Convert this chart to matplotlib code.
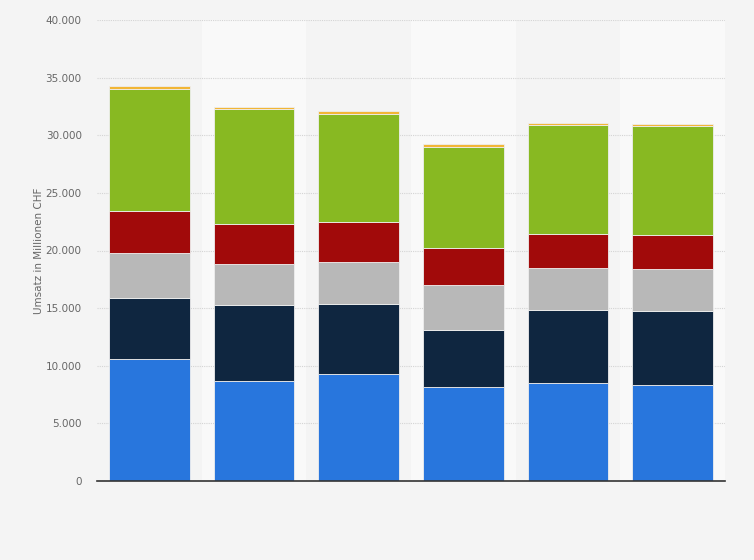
import matplotlib.pyplot as plt
from matplotlib.ticker import FuncFormatter

# six bars, no category labels shown in the reference
bars = [0, 1, 2, 3, 4, 5]

blue = [10560, 8650, 9260, 8130, 8540, 8370]
navy = [5360, 6600, 6100, 5010, 6340, 6420]
grey = [3820, 3560, 3620, 3850, 3560, 3610]
red = [3700, 3470, 3480, 3210, 2980, 2930]
green = [10590, 9960, 9370, 8790, 9430, 9430]
yellow = [230, 200, 290, 260, 230, 200]

series = [blue, navy, grey, red, green, yellow]
colors = ['#2876dd', '#0f2640', '#b8b8b8', '#a10a0a', '#88b922', '#f2b636']

fig = plt.figure(figsize=(7.54, 5.6), dpi=100)
fig.patch.set_facecolor('#f4f4f4')
ax = fig.add_axes([97 / 754, 1 - 481 / 560, 628 / 754, 461 / 560])
ax.set_facecolor('#f4f4f4')

# alternating light column bands
for i in bars:
    if i % 2 == 1:
        ax.axvspan(i - 0.5, i + 0.5, color='#f9f9f9', zorder=0, lw=0)

bottom = [0] * len(bars)
for vals, c in zip(series, colors):
    ax.bar(bars, vals, width=0.77, bottom=bottom, color=c,
           edgecolor='#eeeeee', linewidth=0.6, zorder=3)
    bottom = [b + v for b, v in zip(bottom, vals)]

ax.set_xlim(-0.5, 5.5)
ax.set_ylim(0, 40000)
ax.set_yticks(range(0, 40001, 5000))
ax.yaxis.set_major_formatter(FuncFormatter(lambda v, p: f"{int(v):,}".replace(',', '.')))
ax.set_xticks([])
ax.tick_params(axis='y', length=0, labelsize=7.5, labelcolor='#666666', pad=11)
ax.grid(axis='y', color='#d4d4d4', linestyle=(0, (1, 1)), linewidth=0.8, zorder=1)
for s in ['top', 'right', 'left']:
    ax.spines[s].set_visible(False)
ax.spines['bottom'].set_color('#333333')
ax.spines['bottom'].set_linewidth(1.2)
ax.spines['bottom'].set_zorder(4)

ax.set_ylabel('Umsatz in Millionen CHF', fontsize=7.5, color='#666666', labelpad=1)

fig.savefig('out.png', dpi=100, facecolor=fig.get_facecolor())
